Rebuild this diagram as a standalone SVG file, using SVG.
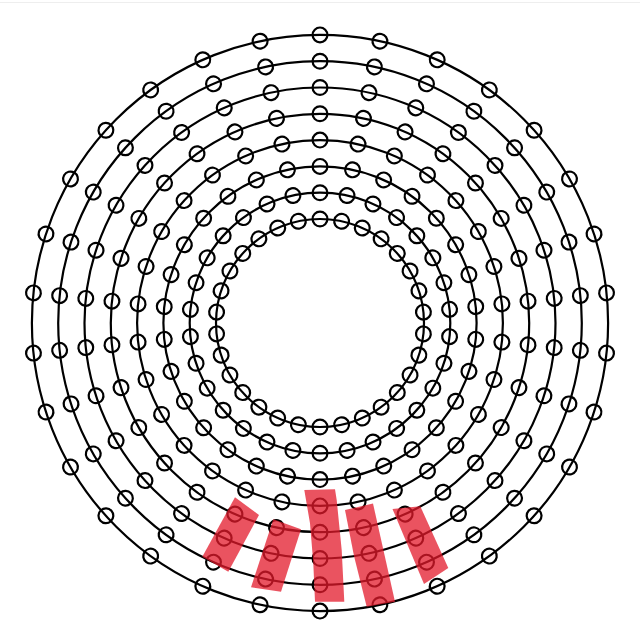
<svg xmlns="http://www.w3.org/2000/svg" xmlns:xlink="http://www.w3.org/1999/xlink" width="640" height="640" viewBox="0 0 640 640">
<style>
.ring{fill:none;stroke:#000;stroke-width:2.2}
.dot{fill:none;stroke:#000;stroke-width:2.2}
.bar{fill:#e31a2b;fill-opacity:0.75;stroke:none}
</style>
<defs>
<g id="spoke">
<circle class="dot" cx="424" cy="323" r="7.4"/>
<circle class="dot" cx="450.3" cy="323" r="7.4"/>
<circle class="dot" cx="476.6" cy="323" r="7.4"/>
<circle class="dot" cx="502.9" cy="323" r="7.4"/>
<circle class="dot" cx="529.2" cy="323" r="7.4"/>
<circle class="dot" cx="555.5" cy="323" r="7.4"/>
<circle class="dot" cx="581.8" cy="323" r="7.4"/>
<circle class="dot" cx="608.1" cy="323" r="7.4"/>
</g>
</defs>
<rect width="640" height="640" fill="#fff"/>
<line x1="0" y1="2.5" x2="640" y2="2.5" stroke="#eeeeee" stroke-width="1"/>
<g id="rings">
<circle class="ring" cx="320" cy="323" r="104"/>
<circle class="ring" cx="320" cy="323" r="130.3"/>
<circle class="ring" cx="320" cy="323" r="156.6"/>
<circle class="ring" cx="320" cy="323" r="182.9"/>
<circle class="ring" cx="320" cy="323" r="209.2"/>
<circle class="ring" cx="320" cy="323" r="235.5"/>
<circle class="ring" cx="320" cy="323" r="261.8"/>
<circle class="ring" cx="320" cy="323" r="288.1"/>
</g>
<g id="dots">
<use href="#spoke" transform="rotate(6 320 323)"/>
<use href="#spoke" transform="rotate(18 320 323)"/>
<use href="#spoke" transform="rotate(30 320 323)"/>
<use href="#spoke" transform="rotate(42 320 323)"/>
<use href="#spoke" transform="rotate(54 320 323)"/>
<use href="#spoke" transform="rotate(66 320 323)"/>
<use href="#spoke" transform="rotate(78 320 323)"/>
<use href="#spoke" transform="rotate(90 320 323)"/>
<use href="#spoke" transform="rotate(102 320 323)"/>
<use href="#spoke" transform="rotate(114 320 323)"/>
<use href="#spoke" transform="rotate(126 320 323)"/>
<use href="#spoke" transform="rotate(138 320 323)"/>
<use href="#spoke" transform="rotate(150 320 323)"/>
<use href="#spoke" transform="rotate(162 320 323)"/>
<use href="#spoke" transform="rotate(174 320 323)"/>
<use href="#spoke" transform="rotate(186 320 323)"/>
<use href="#spoke" transform="rotate(198 320 323)"/>
<use href="#spoke" transform="rotate(210 320 323)"/>
<use href="#spoke" transform="rotate(222 320 323)"/>
<use href="#spoke" transform="rotate(234 320 323)"/>
<use href="#spoke" transform="rotate(246 320 323)"/>
<use href="#spoke" transform="rotate(258 320 323)"/>
<use href="#spoke" transform="rotate(270 320 323)"/>
<use href="#spoke" transform="rotate(282 320 323)"/>
<use href="#spoke" transform="rotate(294 320 323)"/>
<use href="#spoke" transform="rotate(306 320 323)"/>
<use href="#spoke" transform="rotate(318 320 323)"/>
<use href="#spoke" transform="rotate(330 320 323)"/>
<use href="#spoke" transform="rotate(342 320 323)"/>
<use href="#spoke" transform="rotate(354 320 323)"/>
</g>
<g id="highlights">
<polygon class="bar" points="235,497.3 259,515 228.3,571.7 202.3,556.7"/>
<polygon class="bar" points="273.3,519.3 301,529.3 281,591.7 251,587.3"/>
<polygon class="bar" points="304.3,490 335,489.3 336.7,500 341.7,550 344.3,601.7 315,601.7 313.3,563.3 310,523.3"/>
<polygon class="bar" points="345,510 373,503.5 395,601.7 366.7,606.7 354,556"/>
<polygon class="bar" points="392.5,509 420.3,506.3 448.3,568 424,584"/>
</g>
</svg>
